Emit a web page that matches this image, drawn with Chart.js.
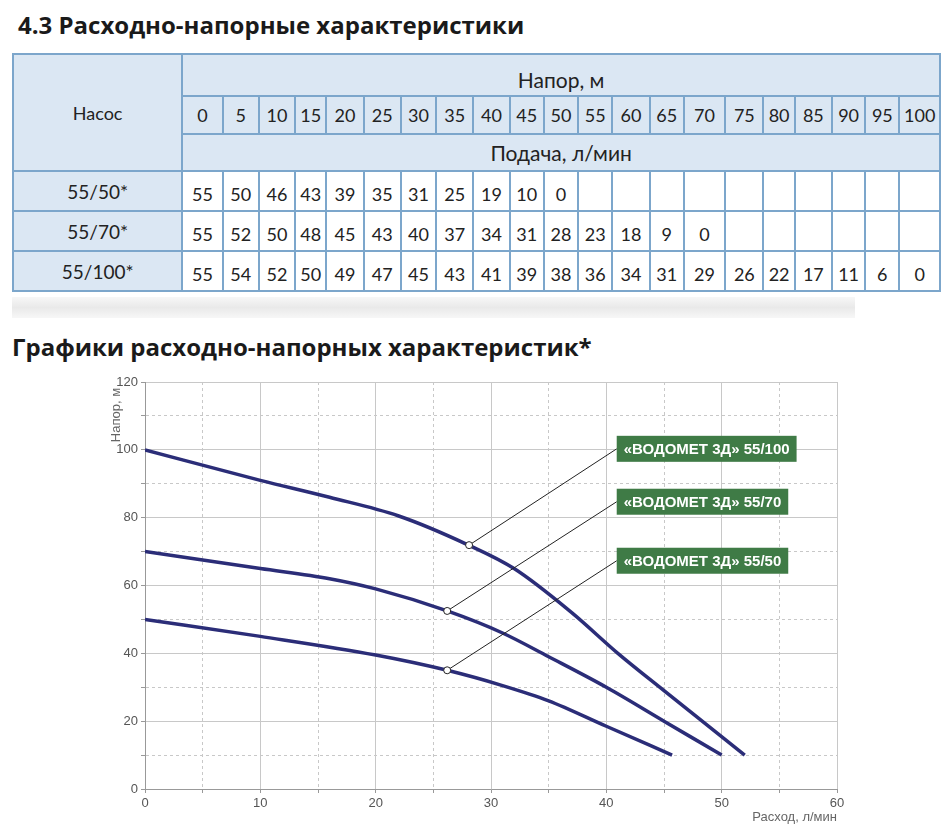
<!DOCTYPE html>
<html><head><meta charset="utf-8">
<script src="https://cdn.jsdelivr.net/npm/chart.js@4.4.0/dist/chart.umd.min.js"></script>
<style>
body{margin:0;width:949px;height:825px;background:#fff;position:relative;overflow:hidden;font-family:"Lato","Open Sans",sans-serif;}
h1,h2{position:absolute;margin:0;font-family:"Open Sans",sans-serif;font-weight:700;color:#1a1a1a;}
h1{left:18px;top:8px;font-size:24px;}
h2{left:12px;top:330px;font-size:24px;}
table{position:absolute;left:12px;top:53px;width:929px;border-collapse:collapse;table-layout:fixed;}
td{border:2px solid #7ca6cb;text-align:center;font-size:18px;color:#222;padding:0;}
.h{background:#dbe7f3;}
.w{background:#fff;}
#strip{position:absolute;left:12px;top:297px;width:843px;height:21px;background:linear-gradient(#f7f7f7,#e9e9e9,#f7f7f7);}
#wrap{position:absolute;left:100px;top:370px;width:849px;height:455px;}
</style></head><body>
<h1>4.3 Расходно-напорные характеристики</h1>
<table id="tbl"></table>
<div id="strip"></div>
<h2>Графики расходно-напорных характеристик*</h2>
<div id="wrap"><canvas id="c" width="849" height="455"></canvas></div>
<script>
const headCols=[0,5,10,15,20,25,30,35,40,45,50,55,60,65,70,75,80,85,90,95,100];
const pumpNames=["55/50*","55/70*","55/100*"];
const flow50=[55,50,46,43,39,35,31,25,19,10,0];
const flow70=[55,52,50,48,45,43,40,37,34,31,28,23,18,9,0];
const flow100=[55,54,52,50,49,47,45,43,41,39,38,36,34,31,29,26,22,17,11,6,0];

const curve100X=[0,10,16,22,28,32,37,41,45,52];
const curve100Y=[100,91,86,80.5,72,65,52,40,29,10];
const curve70X=[0,10,16,20,26.2,31,35,40,45,50];
const curve70Y=[70,65,62,59,52.5,46,39,30,20,10];
const curve50X=[0,10,20,26.2,31,35,40,45.7];
const curve50Y=[50,45,39.5,35,30.5,26,18.5,10];
const labelNames=["«ВОДОМЕТ 3Д» 55/100","«ВОДОМЕТ 3Д» 55/70","«ВОДОМЕТ 3Д» 55/50"];
const markerX=[28.1,26.2,26.2];
const markerY=[71.9,52.5,35];
const boxX=[40.9,40.9,40.9];
const boxY=[100.3,84.7,67.3];

// table
const widths=[35,40,36,36,31,37,37,35,37,36,34,34,34,37,34,41,38,31,37,33,34,40];
let html='<colgroup><col style="width:168px">';
headCols.forEach((c,i)=>html+=`<col style="width:${widths[i+1]}px">`);
html+='</colgroup>';
html+=`<tr style="height:42px"><td class="h" rowspan="3">Насос</td><td class="h" colspan="21" style="font-size:21px;padding-top:8px">Напор, м</td></tr>`;
html+='<tr style="height:38px">'+headCols.map(c=>`<td class="h">${c}</td>`).join('')+'</tr>';
html+=`<tr style="height:37px"><td class="h" colspan="21" style="font-size:21px">Подача, л/мин</td></tr>`;
[flow50,flow70,flow100].forEach((arr,r)=>{
  html+=`<tr style="height:40px"><td class="h" style="font-size:19px">${pumpNames[r]}</td>`+headCols.map((c,i)=>`<td class="w" style="padding-top:6px">${i<arr.length?arr[i]:''}</td>`).join('')+'</tr>';
});
document.getElementById('tbl').innerHTML=html;

const pts=(xs,ys)=>xs.map((x,i)=>({x:x,y:ys[i]}));
const navy='#2b2d78';
const ds=(d)=>({data:d,borderColor:navy,borderWidth:3.5,pointRadius:0,tension:0.4,cubicInterpolationMode:'monotone',fill:false});
const tickFont={family:'"Liberation Sans Narrow","Liberation Sans",sans-serif',size:13};

const deco={id:'deco',afterDatasetsDraw(ch){
  const {ctx,scales:{x,y},chartArea:a}=ch;
  ctx.save();
  for(let i=0;i<3;i++){
    const mx=x.getPixelForValue(markerX[i]),my=y.getPixelForValue(markerY[i]);
    const bx=x.getPixelForValue(boxX[i]),by=y.getPixelForValue(boxY[i]);
    ctx.strokeStyle='#222';ctx.lineWidth=1;
    ctx.beginPath();ctx.moveTo(mx,my);ctx.lineTo(bx,by);ctx.stroke();
    ctx.font='bold 15px "Liberation Sans Narrow","Liberation Sans",sans-serif';
    const w=ctx.measureText(labelNames[i]).width+14;
    ctx.fillStyle='#3f7b46';ctx.fillRect(bx,by-13,w,26);
    ctx.fillStyle='#fff';ctx.textBaseline='middle';ctx.textAlign='left';
    ctx.fillText(labelNames[i],bx+7,by+1);
    ctx.beginPath();ctx.arc(mx,my,3.5,0,Math.PI*2);ctx.fillStyle='#fff';ctx.fill();ctx.strokeStyle='#222';ctx.stroke();
  }
  ctx.fillStyle='#666';ctx.font='13px "Liberation Sans Narrow","Liberation Sans",sans-serif';
  ctx.save();ctx.translate(16,a.top+33);ctx.rotate(-Math.PI/2);ctx.textAlign='center';ctx.textBaseline='middle';ctx.fillText('Напор, м',0,0);ctx.restore();
  ctx.textAlign='right';ctx.textBaseline='middle';ctx.fillText('Расход, л/мин',a.right,a.bottom+28);
  ctx.restore();
}};

new Chart(document.getElementById('c'),{
  type:'line',
  data:{datasets:[ds(pts(curve100X,curve100Y)),ds(pts(curve70X,curve70Y)),ds(pts(curve50X,curve50Y))]},
  options:{responsive:false,animation:false,events:[],
    layout:{padding:{top:12,right:112,left:0,bottom:0}},
    plugins:{legend:{display:false},tooltip:{enabled:false}},
    scales:{
      x:{type:'linear',min:0,max:60,
        afterFit:s=>{s.height=36;},
        ticks:{stepSize:5,autoSkip:false,maxRotation:0,color:'#555',font:tickFont,callback:v=>v%10===0?v:''},
        grid:{color:'#c8c8c8',lineWidth:1,tickLength:4,tickColor:'#999'},
        border:{color:'#999',dash:c=>(c.tick&&c.tick.value%10!==0)?[3,3]:[]}},
      y:{type:'linear',min:0,max:120,
        afterFit:s=>{s.width=45;},
        ticks:{stepSize:10,autoSkip:false,color:'#555',font:tickFont,callback:v=>v%20===0?v:''},
        grid:{color:'#c8c8c8',lineWidth:1,tickLength:4,tickColor:'#999'},
        border:{color:'#999',dash:c=>(c.tick&&c.tick.value%20!==0)?[3,3]:[]}}
    }},
  plugins:[deco]
});
</script>
</body></html>
